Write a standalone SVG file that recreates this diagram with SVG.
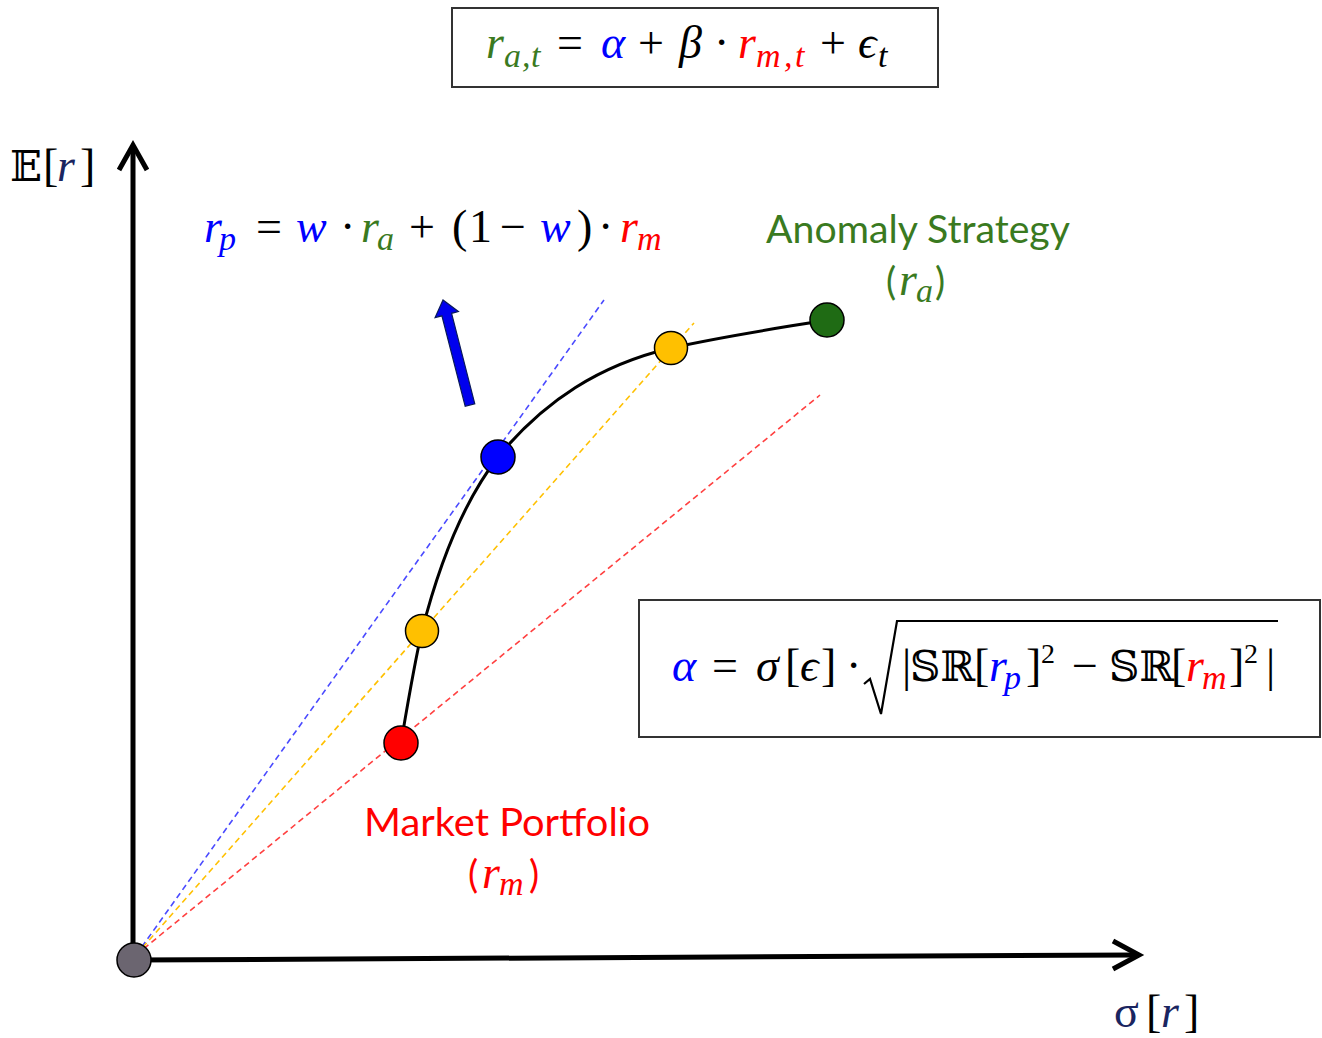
<svg xmlns="http://www.w3.org/2000/svg" width="1322" height="1038" viewBox="0 0 1322 1038">
<style>
.m{font-family:"Liberation Serif","DejaVu Serif",serif;font-size:46px;fill:#000}
.i{font-style:italic}
.sub{font-size:34px}
.sup{font-size:28px}
.g{fill:#3a7a1f}
.b{fill:#0000ff}
.r{fill:#ff0000}
.lbl{font-family:Lato,"Liberation Sans",sans-serif;font-size:38px}
.ds{font-family:"DejaVu Serif","DejaVu Sans",serif;font-size:42px}
.box{fill:#fff;stroke:#333;stroke-width:2}
.dash{fill:none;stroke-width:1.6;stroke-dasharray:6 4}
.pt{stroke:#000;stroke-width:1.5}
</style>
<rect width="1322" height="1038" fill="#fff"/>

<g id="connectors">
  <line class="dash" x1="136" y1="955" x2="604" y2="300" stroke="#4a4aff"/>
  <line class="dash" x1="136" y1="955" x2="694" y2="323" stroke="#ffc000"/>
  <line class="dash" x1="136" y1="955" x2="820" y2="395" stroke="#ff4040"/>
  <path d="M401 743 C410 690 415 660 422 631 C440 560 465 500 498 457 C545 400 600 365 671 348 C730 335 780 328 827 320" fill="none" stroke="#000" stroke-width="3"/>
  <line x1="133" y1="960" x2="133" y2="146" stroke="#000" stroke-width="5"/>
  <polyline points="119,170 133,145 147,170" fill="none" stroke="#000" stroke-width="5"/>
  <line x1="133" y1="960" x2="1136" y2="955" stroke="#000" stroke-width="5"/>
  <polyline points="1113,941 1139,955 1113,969" fill="none" stroke="#000" stroke-width="5"/>
  <polygon points="474.8,403.8 451.6,313.3 458.4,311.5 443,300 435.1,317.5 441.9,315.8 465.2,406.3" fill="#0000ee" stroke="#0a1a5a" stroke-width="1.2"/>
</g>

<g id="origin"><circle class="pt" cx="134" cy="960" r="17" fill="#6b6570"/></g>
<g id="market"><circle class="pt" cx="401" cy="743" r="17" fill="#ff0000"/></g>
<g id="mix1"><circle class="pt" cx="422" cy="631" r="16.5" fill="#ffc000"/></g>
<g id="tangency"><circle class="pt" cx="498" cy="457" r="17" fill="#0000ff"/></g>
<g id="mix2"><circle class="pt" cx="671" cy="348" r="16.5" fill="#ffc000"/></g>
<g id="anomaly"><circle class="pt" cx="827" cy="320" r="17" fill="#1f6b14"/></g>

<g id="capm-box">
  <rect class="box" x="452" y="8" width="486" height="79"/>
  <text class="m" y="58"><tspan class="i g" x="486">r</tspan><tspan class="i g sub" x="504" dy="9">a</tspan><tspan class="i g sub" x="522">,</tspan><tspan class="i g sub" x="531">t</tspan><tspan x="557" dy="-9">=</tspan><tspan class="i b" x="601">α</tspan><tspan x="638">+</tspan><tspan class="i" x="679">β</tspan><tspan x="714">·</tspan><tspan class="i r" x="738">r</tspan><tspan class="i r sub" x="756" dy="9">m</tspan><tspan class="i r sub" x="784">,</tspan><tspan class="i r sub" x="795">t</tspan><tspan x="820" dy="-9">+</tspan><tspan class="i" x="858">ϵ</tspan><tspan class="i sub" x="878" dy="9">t</tspan></text>
</g>

<g id="axis-y-label">
  <text class="m" y="181"><tspan class="ds" x="10" font-size="40">𝔼</tspan><tspan x="43">[</tspan><tspan class="i" x="57" fill="#1a2560">r</tspan><tspan x="80">]</tspan></text>
</g>

<g id="axis-x-label">
  <text class="m" y="1027"><tspan x="1114" fill="#1a2560">σ</tspan><tspan x="1146">[</tspan><tspan class="i" x="1161" fill="#1a2560">r</tspan><tspan x="1184">]</tspan></text>
</g>

<g id="portfolio-formula">
  <text class="m" y="242"><tspan class="i b" x="204">r</tspan><tspan class="i b sub" x="219" dy="8">p</tspan><tspan x="256" dy="-8">=</tspan><tspan class="i b" x="296">w</tspan><tspan x="340">·</tspan><tspan class="i g" x="361">r</tspan><tspan class="i g sub" x="377" dy="8">a</tspan><tspan x="409" dy="-8">+</tspan><tspan x="452">(</tspan><tspan x="469">1</tspan><tspan x="500">−</tspan><tspan class="i b" x="540">w</tspan><tspan x="577">)</tspan><tspan x="598">·</tspan><tspan class="i r" x="620">r</tspan><tspan class="i r sub" x="637" dy="8">m</tspan></text>
</g>

<g id="anomaly-label">
  <text class="lbl g" x="766" y="243" textLength="304" lengthAdjust="spacingAndGlyphs">Anomaly Strategy</text>
  <text class="lbl g" y="295"><tspan x="886">(</tspan><tspan class="m i g" x="899">r</tspan><tspan class="m i g sub" x="916" dy="7">a</tspan><tspan x="935" dy="-7">)</tspan></text>
</g>

<g id="market-label">
  <text class="lbl r" x="364" y="836" textLength="286" lengthAdjust="spacingAndGlyphs">Market Portfolio</text>
  <text class="lbl r" y="888"><tspan x="468">(</tspan><tspan class="m i r" x="482">r</tspan><tspan class="m i r sub" x="499" dy="7">m</tspan><tspan x="529" dy="-7">)</tspan></text>
</g>

<g id="alpha-box">
  <rect class="box" x="639" y="600" width="681" height="137"/>
  <text class="m" y="681"><tspan class="i b" x="672">α</tspan><tspan x="712">=</tspan><tspan class="i" x="756">σ</tspan><tspan x="785">[</tspan><tspan class="i" x="800">ϵ</tspan><tspan x="821">]</tspan><tspan x="846">·</tspan><tspan x="902">|</tspan><tspan class="ds" x="910">𝕊ℝ</tspan><tspan x="974">[</tspan><tspan class="i b" x="989">r</tspan><tspan class="i b sub" x="1004" dy="8">p</tspan><tspan x="1026" dy="-8">]</tspan><tspan class="sup" x="1041" dy="-18">2</tspan><tspan x="1072" dy="18">−</tspan><tspan class="ds" x="1109">𝕊ℝ</tspan><tspan x="1171">[</tspan><tspan class="i r" x="1186">r</tspan><tspan class="i r sub" x="1202" dy="8">m</tspan><tspan x="1229" dy="-8">]</tspan><tspan class="sup" x="1244" dy="-18">2</tspan><tspan x="1266" dy="18">|</tspan></text>
  <polyline points="864,684 870,679 881,714 897,621 1278,621" fill="none" stroke="#000" stroke-width="2.2" stroke-linejoin="miter"/>
</g>
</svg>
